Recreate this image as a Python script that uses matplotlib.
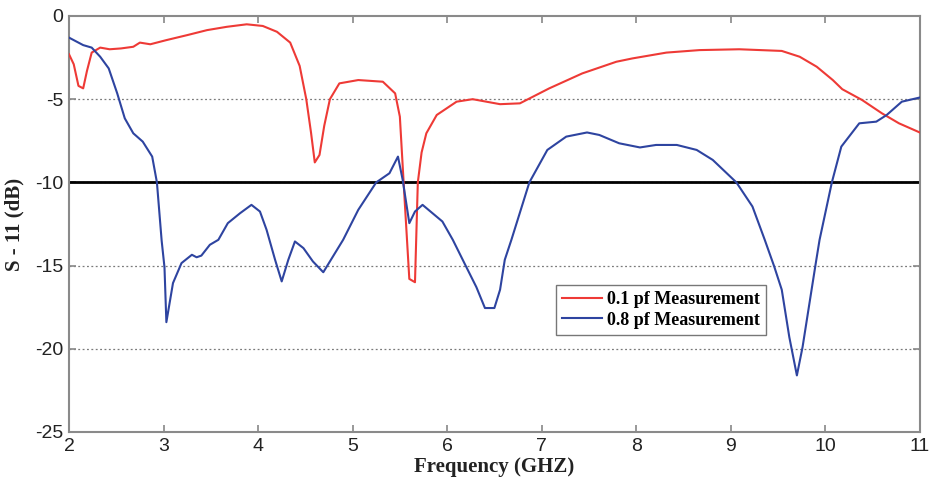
import matplotlib
matplotlib.use("Agg")
import matplotlib.pyplot as plt

# 0.1 pf measurement (red)
freq_01 = [2.0, 2.05, 2.1, 2.15, 2.19, 2.24, 2.33, 2.43, 2.55, 2.68, 2.75, 2.86, 3.03, 3.25, 3.46,
           3.67, 3.88, 4.05, 4.2, 4.34, 4.44, 4.51, 4.56, 4.6, 4.65, 4.7, 4.76, 4.86, 5.06, 5.32,
           5.45, 5.5, 5.55, 5.6, 5.63, 5.66, 5.69, 5.73, 5.78, 5.89, 6.1, 6.27, 6.56, 6.77, 7.08,
           7.43, 7.61, 7.79, 7.96, 8.32, 8.67, 9.09, 9.54, 9.73, 9.91, 10.08, 10.18, 10.39, 10.6,
           10.78, 11.0]
s11_01 = [-2.3, -2.9, -4.2, -4.35, -3.3, -2.2, -1.9, -2.0, -1.95, -1.85, -1.6, -1.7, -1.45, -1.15, -0.85,
          -0.65, -0.5, -0.6, -0.95, -1.6, -3.0, -5.0, -7.0, -8.8, -8.35, -6.6, -5.0, -4.05, -3.85, -3.95,
          -4.65, -6.05, -11.0, -15.8, -15.9, -16.0, -10.0, -8.2, -7.05, -5.95, -5.15, -5.0, -5.3, -5.25, -4.35,
          -3.45, -3.1, -2.75, -2.55, -2.2, -2.05, -2.0, -2.1, -2.45, -3.05, -3.85, -4.4, -5.05, -5.85,
          -6.45, -7.0]

# 0.8 pf measurement (blue)
freq_08 = [2.0, 2.15, 2.24, 2.33, 2.42, 2.51, 2.59, 2.68, 2.78, 2.88, 2.93, 2.98, 3.01, 3.03, 3.1,
           3.19, 3.3, 3.35, 3.4, 3.49, 3.58, 3.68, 3.81, 3.93, 4.02, 4.09, 4.18, 4.25, 4.32, 4.39,
           4.48, 4.58, 4.69, 4.9, 5.06, 5.25, 5.39, 5.48, 5.53, 5.6, 5.66, 5.74, 5.95, 6.06, 6.2,
           6.31, 6.4, 6.5, 6.56, 6.61, 6.68, 6.87, 7.06, 7.26, 7.48, 7.61, 7.82, 8.04, 8.21, 8.43,
           8.64, 8.81, 9.06, 9.23, 9.36, 9.46, 9.54, 9.62, 9.7, 9.76, 9.85, 9.9, 9.94, 10.07, 10.17,
           10.36, 10.54, 10.65, 10.81, 11.0]
s11_08 = [-1.3, -1.75, -1.9, -2.45, -3.15, -4.65, -6.15, -7.05, -7.55, -8.45, -10.0, -13.5, -15.1, -18.4, -16.05,
          -14.85, -14.35, -14.5, -14.4, -13.75, -13.45, -12.45, -11.85, -11.35, -11.75, -12.85, -14.65, -15.95, -14.65, -13.55,
          -13.95, -14.75, -15.4, -13.45, -11.65, -10.0, -9.45, -8.45, -9.85, -12.45, -11.75, -11.35, -12.35, -13.45, -15.05,
          -16.3, -17.55, -17.55, -16.45, -14.65, -13.45, -10.0, -8.05, -7.25, -7.0, -7.15, -7.65, -7.9, -7.75, -7.75,
          -8.05, -8.65, -10.0, -11.45, -13.45, -15.05, -16.45, -19.3, -21.6, -19.9, -16.65, -14.85, -13.45, -10.0, -7.85,
          -6.45, -6.35, -5.95, -5.15, -4.9]

labels = ["0.1 pf Measurement", "0.8 pf Measurement"]
x_ticks = [2, 3, 4, 5, 6, 7, 8, 9, 10, 11]
y_ticks = [0, -5, -10, -15, -20, -25]
threshold = -10

fig = plt.figure(figsize=(9.3, 4.8), dpi=100)
ax = fig.add_axes([0.0742, 0.1, 0.9148, 0.8667])

for y in [-5, -10, -15, -20]:
    ax.axhline(y, color="#7a7a7a", linestyle=(0, (1.5, 2)), linewidth=0.9, zorder=1)
ax.axhline(threshold, color="black", linewidth=2.0, zorder=2)

ax.plot(freq_01, s11_01, color="#ee3a36", linewidth=1.5, label=labels[0], zorder=3)
ax.plot(freq_08, s11_08, color="#2e44a0", linewidth=1.5, label=labels[1], zorder=3)

ax.set_xlim(2, 11)
ax.set_ylim(-25, 0)
ax.set_xticks(x_ticks)
ax.set_yticks(y_ticks)
ax.set_xticklabels([str(t) for t in x_ticks], family="Liberation Sans", fontsize=14, color="#222222")
ax.set_yticklabels([str(t) for t in y_ticks], family="Liberation Sans", fontsize=14, color="#222222")
ax.tick_params(direction="in", top=True, right=True, length=5, width=1.2, color="#888888", pad=4)

for s in ax.spines.values():
    s.set_color("#8a8a8a")
    s.set_linewidth(1.5)

ax.set_xlabel("Frequency (GHZ)", family="Liberation Serif", fontweight="bold", fontsize=15, color="#222222", labelpad=2)
ax.set_ylabel("S - 11 (dB)", family="Liberation Serif", fontweight="bold", fontsize=15, color="#222222", labelpad=8)

leg = ax.legend(loc="lower left", bbox_to_anchor=(0.572, 0.233), frameon=True, fancybox=False,
                prop={"family": "Liberation Serif", "weight": "bold", "size": 13},
                handlelength=2.2, handletextpad=0.3, borderpad=0.35, labelspacing=0.2,
                borderaxespad=0)
leg.get_frame().set_edgecolor("#555555")
leg.get_frame().set_linewidth(1.0)

fig.savefig("out.png", dpi=100)
